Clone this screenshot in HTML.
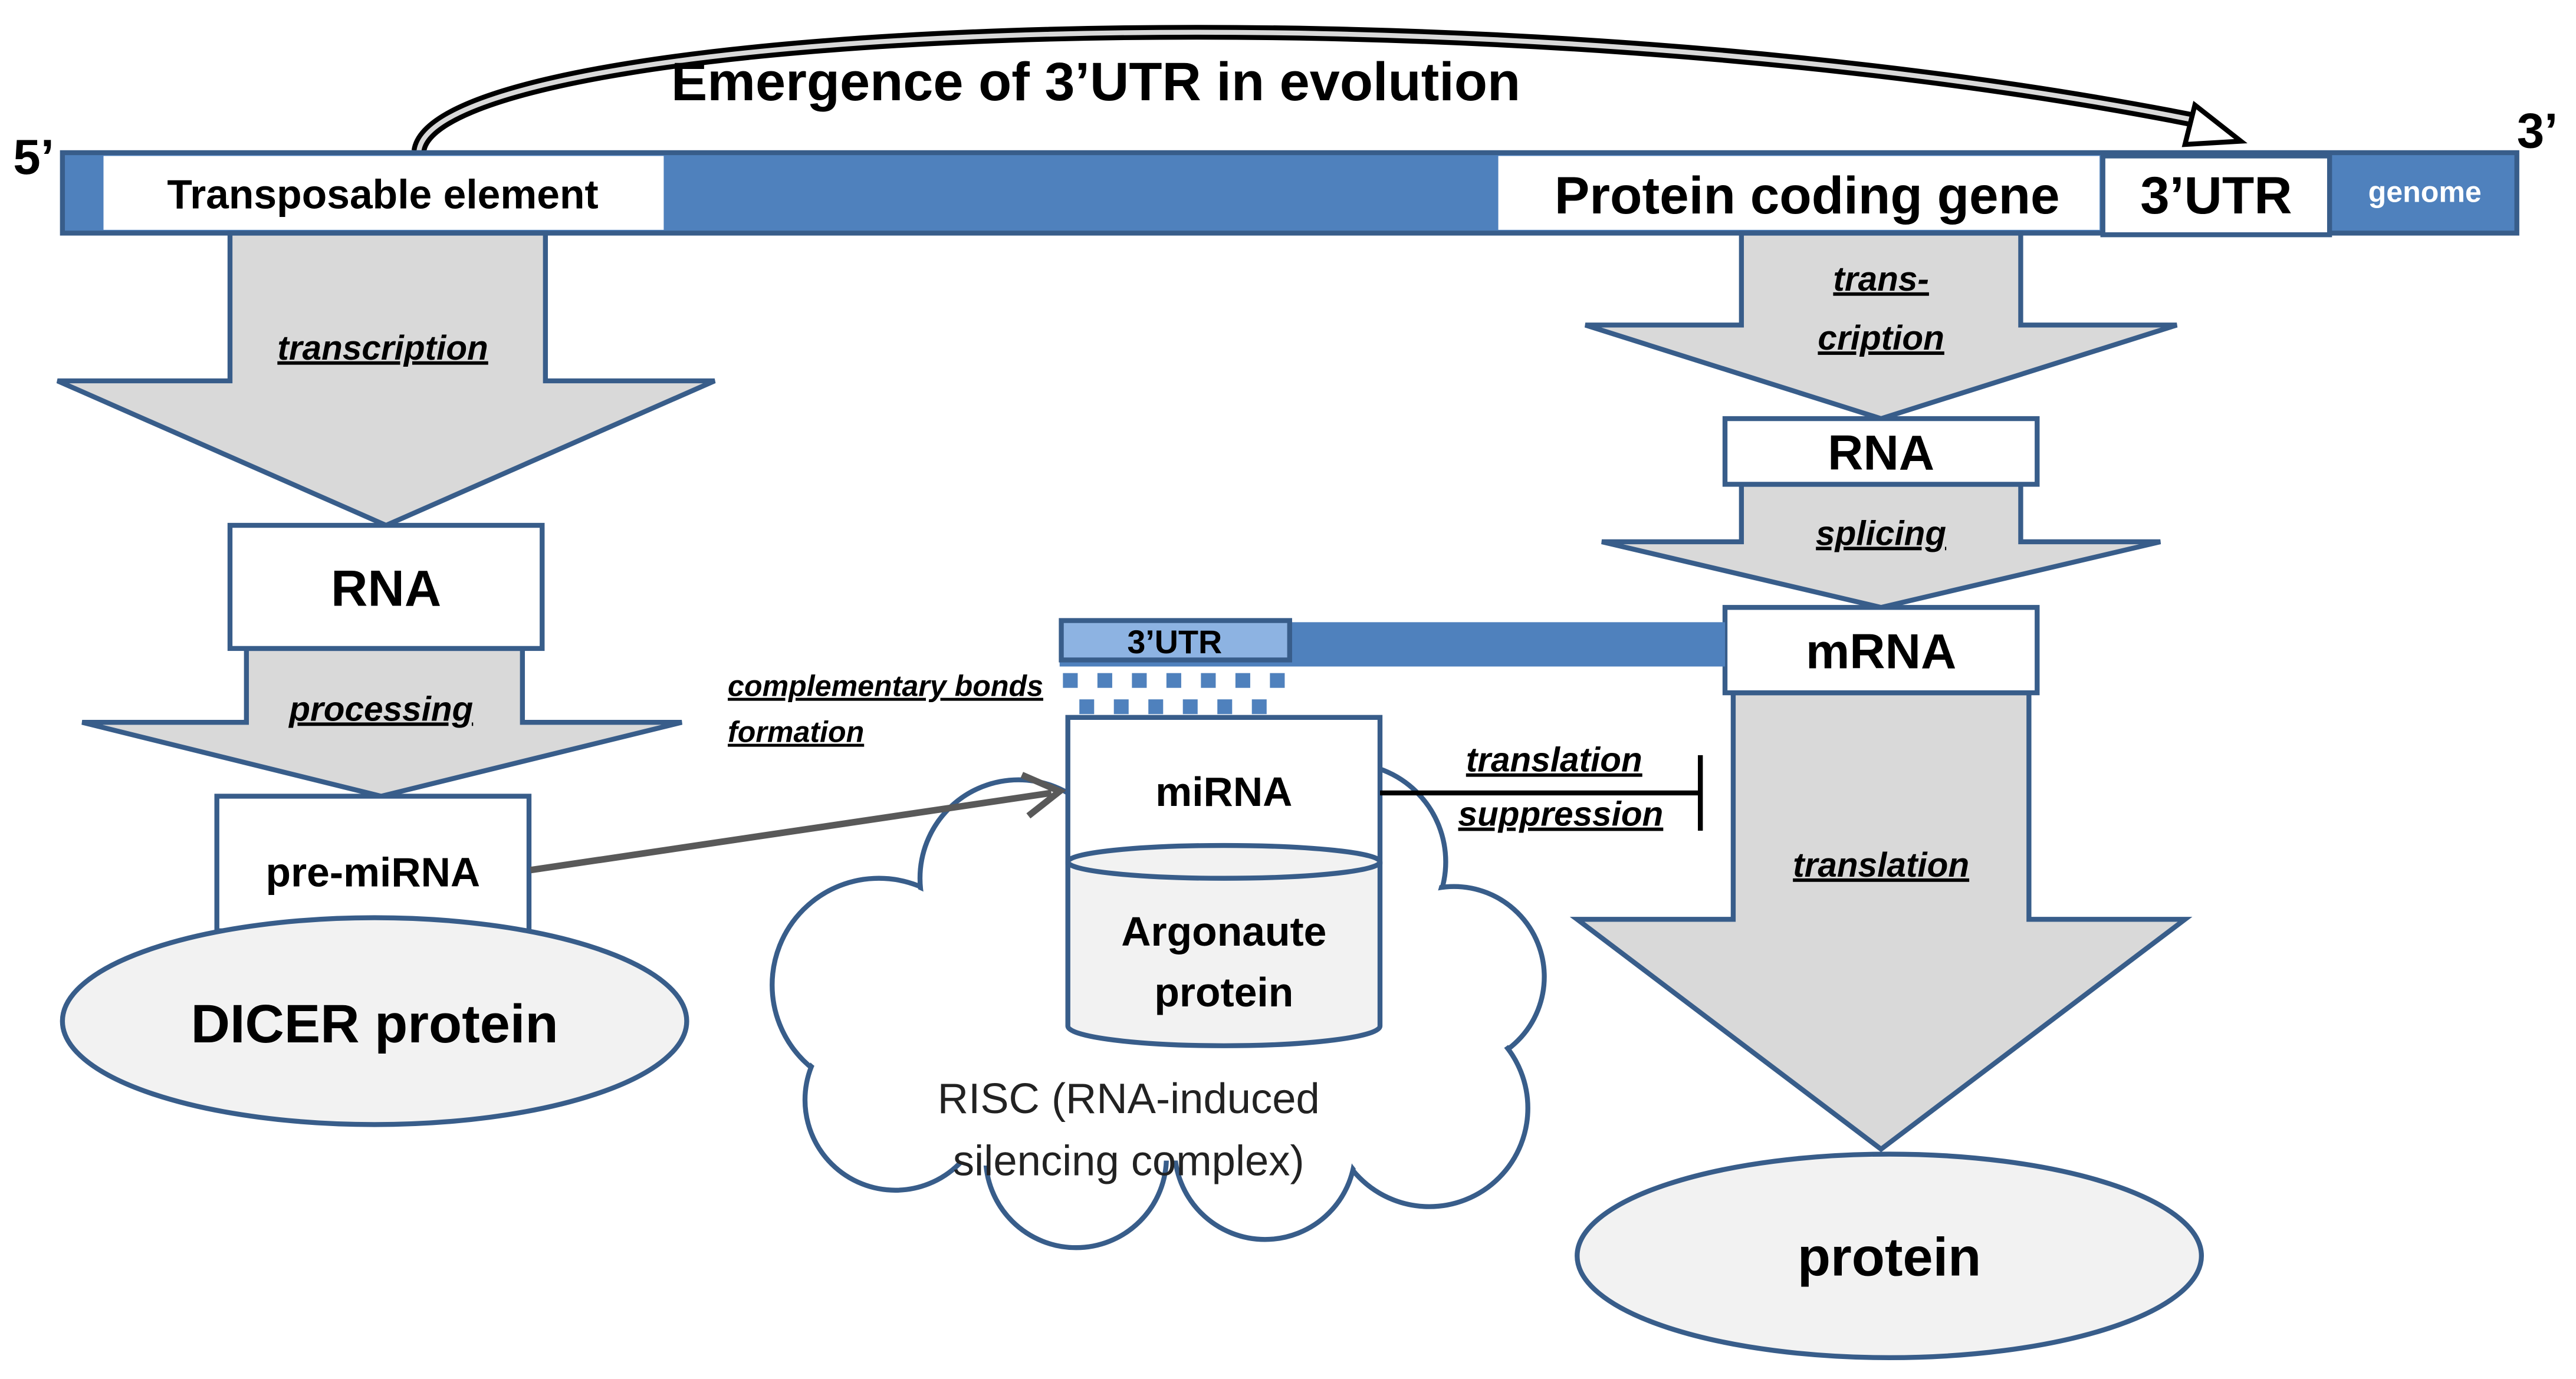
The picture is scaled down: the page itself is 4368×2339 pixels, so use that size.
<!DOCTYPE html>
<html><head><meta charset="utf-8"><style>
html,body{margin:0;padding:0;background:#fff;width:4368px;height:2339px;overflow:hidden}
svg{display:block}
text{font-family:"Liberation Sans",sans-serif}
.b{font-weight:bold}
.lab{font-weight:bold;font-style:italic;text-decoration:underline;font-size:21px}
</style></head><body>
<svg width="4368" height="2339" viewBox="0 0 1568 840" preserveAspectRatio="none" xmlns="http://www.w3.org/2000/svg">
<path d="M255,92 C265,15 900,-15 1345,75" fill="none" stroke="#000" stroke-width="9"/>
<path d="M255,92 C265,15 900,-15 1345,75" fill="none" stroke="#d9d9d9" stroke-width="3"/>
<polygon points="1336,64 1364,86 1330,88" fill="#fff" stroke="#000" stroke-width="3"/>
<text x="667" y="61" text-anchor="middle" class="b" font-size="33">Emergence of 3’UTR in evolution</text>
<text x="8" y="106" class="b" font-size="30">5’</text>
<text x="1532" y="90" class="b" font-size="30">3’</text>
<rect x="38" y="93" width="1494" height="49" fill="#4f81bd" stroke="#385d8a" stroke-width="3"/>
<rect x="63" y="95" width="341" height="45" fill="#fff"/>
<rect x="912" y="95" width="366" height="45" fill="#fff"/>
<rect x="1280" y="95" width="138" height="48" fill="#fff" stroke="#385d8a" stroke-width="3"/>
<text x="233" y="127" text-anchor="middle" class="b" font-size="25">Transposable element</text>
<text x="1100" y="130" text-anchor="middle" class="b" font-size="32">Protein coding gene</text>
<text x="1349" y="130" text-anchor="middle" class="b" font-size="32">3’UTR</text>
<text x="1476" y="123" text-anchor="middle" class="b" font-size="18" fill="#fff">genome</text>
<g fill="#d9d9d9" stroke="#385d8a" stroke-width="3">
<polygon points="140,142 332,142 332,232 435,232 235,320 35,232 140,232"/>
<polygon points="150,395 318,395 318,440 415,440 232,485 50,440 150,440"/>
<polygon points="1060,142 1230,142 1230,198 1325,198 1145,255 965,198 1060,198"/>
<polygon points="1060,295 1230,295 1230,330 1315,330 1145,370 975,330 1060,330"/>
<polygon points="1055,422 1235,422 1235,560 1330,560 1145,700 960,560 1055,560"/>
</g>
<g fill="#fff" stroke="#385d8a" stroke-width="3">
<rect x="140" y="320" width="190" height="75"/>
<rect x="132" y="485" width="190" height="82"/>
<rect x="1050" y="255" width="190" height="40"/>
<rect x="1050" y="370" width="190" height="52"/>
</g>
<ellipse cx="228" cy="622" rx="190" ry="63" fill="#f2f2f2" stroke="#385d8a" stroke-width="3"/>
<ellipse cx="1150" cy="765" rx="190" ry="62" fill="#f2f2f2" stroke="#385d8a" stroke-width="3"/>
<text x="235" y="369" text-anchor="middle" class="b" font-size="31">RNA</text>
<text x="227" y="540" text-anchor="middle" class="b" font-size="25">pre-miRNA</text>
<text x="228" y="635" text-anchor="middle" class="b" font-size="33">DICER protein</text>
<text x="1145" y="286" text-anchor="middle" class="b" font-size="30">RNA</text>
<text x="1145" y="407" text-anchor="middle" class="b" font-size="30">mRNA</text>
<text x="1150" y="777" text-anchor="middle" class="b" font-size="33">protein</text>
<text x="233" y="219" text-anchor="middle" class="lab">transcription</text>
<text x="232" y="439" text-anchor="middle" class="lab">processing</text>
<text x="1145" y="177" text-anchor="middle" class="lab">trans-</text>
<text x="1145" y="213" text-anchor="middle" class="lab">cription</text>
<text x="1145" y="332" text-anchor="middle" class="lab">splicing</text>
<text x="1145" y="534" text-anchor="middle" class="lab">translation</text>
<rect x="645" y="379" width="405" height="27" fill="#4f81bd"/>
<rect x="646" y="378" width="139" height="24" fill="#8db3e2" stroke="#385d8a" stroke-width="3"/>
<text x="715" y="398" text-anchor="middle" class="b" font-size="20">3’UTR</text>
<g fill="#4f81bd">
<rect x="647" y="410" width="9" height="9"/><rect x="668" y="410" width="9" height="9"/><rect x="689" y="410" width="9" height="9"/><rect x="710" y="410" width="9" height="9"/><rect x="731" y="410" width="9" height="9"/><rect x="752" y="410" width="9" height="9"/><rect x="773" y="410" width="9" height="9"/>
<rect x="657" y="426" width="9" height="9"/><rect x="678" y="426" width="9" height="9"/><rect x="699" y="426" width="9" height="9"/><rect x="720" y="426" width="9" height="9"/><rect x="741" y="426" width="9" height="9"/><rect x="762" y="426" width="9" height="9"/>
</g>
<text x="443" y="424" font-size="18" class="b" font-style="italic" text-decoration="underline">complementary bonds</text>
<text x="443" y="452" font-size="18" class="b" font-style="italic" text-decoration="underline">formation</text>
<g fill="#fff" stroke="#385d8a" stroke-width="3">
<circle cx="535" cy="600" r="65"/><circle cx="620" cy="535" r="60"/><circle cx="720" cy="515" r="60"/><circle cx="820" cy="525" r="60"/><circle cx="885" cy="595" r="55"/><circle cx="870" cy="675" r="60"/><circle cx="770" cy="700" r="55"/><circle cx="655" cy="705" r="55"/><circle cx="545" cy="670" r="55"/>
</g>
<g fill="#fff">
<circle cx="535" cy="600" r="63"/><circle cx="620" cy="535" r="58"/><circle cx="720" cy="515" r="58"/><circle cx="820" cy="525" r="58"/><circle cx="885" cy="595" r="53"/><circle cx="870" cy="675" r="58"/><circle cx="770" cy="700" r="53"/><circle cx="655" cy="705" r="53"/><circle cx="545" cy="670" r="53"/>
<ellipse cx="710" cy="612" rx="185" ry="95"/>
<circle cx="600" cy="650" r="60"/><circle cx="820" cy="640" r="60"/>
</g>
<text x="687" y="678" text-anchor="middle" font-size="26" fill="#222">RISC (RNA-induced</text>
<text x="687" y="716" text-anchor="middle" font-size="26" fill="#222">silencing complex)</text>
<path d="M650,525 L650,625 A95,12 0 0 0 840,625 L840,525" fill="#f2f2f2" stroke="#385d8a" stroke-width="3"/>
<rect x="650" y="437" width="190" height="88" fill="#fff" stroke="#385d8a" stroke-width="3"/>
<ellipse cx="745" cy="525" rx="95" ry="10" fill="#f2f2f2" stroke="#385d8a" stroke-width="3"/>
<text x="745" y="491" text-anchor="middle" class="b" font-size="25">miRNA</text>
<text x="745" y="576" text-anchor="middle" class="b" font-size="25">Argonaute</text>
<text x="745" y="613" text-anchor="middle" class="b" font-size="25">protein</text>
<line x1="323" y1="530" x2="640" y2="483" stroke="#595959" stroke-width="4"/>
<polyline points="622,472 645,482 626,497" fill="none" stroke="#595959" stroke-width="4"/>
<line x1="840" y1="483" x2="1035" y2="483" stroke="#000" stroke-width="3"/>
<line x1="1035" y1="460" x2="1035" y2="506" stroke="#000" stroke-width="3"/>
<text x="946" y="470" text-anchor="middle" class="lab">translation</text>
<text x="950" y="503" text-anchor="middle" class="lab">suppression</text>
</svg>
</body></html>
